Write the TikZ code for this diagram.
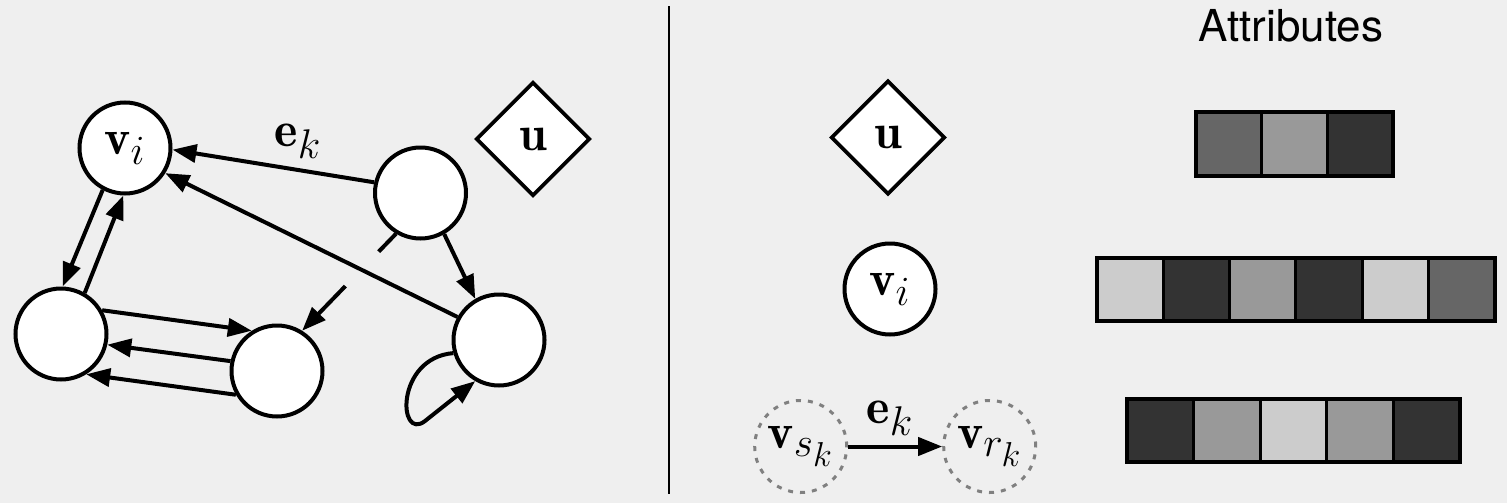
\documentclass[tikz,border=0pt]{standalone}
\usepackage{fontspec}
\newfontfamily\heros{TeX Gyre Heros}
\usetikzlibrary{arrows.meta,shapes.geometric,calc}
\definecolor{bg}{RGB}{239,239,239}
\definecolor{ga}{RGB}{51,51,51}
\definecolor{gb}{RGB}{102,102,102}
\definecolor{gc}{RGB}{153,153,153}
\definecolor{gd}{RGB}{204,204,204}
\definecolor{dashgray}{RGB}{128,128,128}
\begin{document}
\begin{tikzpicture}[x=0.5pt,y=-0.5pt,
  bigmath/.style={font=\fontsize{24.88}{30}\selectfont},
  vert/.style={circle,draw=black,fill=white,line width=2pt,minimum size=45.5pt,inner sep=0pt,bigmath},
  glob/.style={diamond,draw=black,fill=white,line width=1.8pt,minimum size=57pt,inner sep=0pt,bigmath},
  dvert/.style={circle,draw=dashgray,line width=1.5pt,dash pattern=on 2.5pt off 3.5pt,minimum size=46pt,inner sep=0pt,bigmath},
  edge/.style={line width=2pt,-{Triangle[length=12pt,width=9pt]}},
  plain/.style={line width=2pt},
  lbl/.style={inner sep=0pt,bigmath},
  cell/.style={draw=black,line width=1.5pt},
  barframe/.style={draw=black,line width=2pt},
]
\useasboundingbox[fill=bg] (0,0) rectangle (1507,503);

% ---------- left graph ----------
\node[vert] (vi) at (125,148) {$\mathbf{v}_i$};
\node[vert] (tr) at (420.5,193) {};
\node[glob] (uL) at (533,139) {$\mathbf{u}$};
\node[vert] (lc) at (61,334) {};
\node[vert] (mc) at (277,371) {};
\node[vert] (rb) at (499,340) {};

\draw[edge] (tr.167) -- (vi.-2);
\node[lbl] (ekL) at (298,141) {$\mathbf{e}_k$};
\draw[edge] (rb.151) -- (vi.328);
\draw[edge] (vi.242) -- (lc.88);
\draw[edge] (lc.60) -- (vi.268);
\draw[edge] (lc.30) -- (mc.122);
\draw[edge] (mc.168) -- (lc.-13);
\draw[edge] (mc.210) -- (lc.-58);
\draw[edge] (tr.-60) -- (rb.120);
\draw[plain] (tr.239) -- ($(tr.239)!0.185!(mc.58)$);
\draw[edge] ($(tr.239)!0.54!(mc.58)$) -- (mc.58);
\draw[edge] (rb.196) .. controls (395,358) and (398,442) .. (425,421) -- (rb.240);

% ---------- divider ----------
\coordinate (dtop) at (669,6);
\coordinate (dbot) at (669,494);
\draw[line width=1pt] (dtop) -- (dbot);

% ---------- legend ----------
\node[font=\heros\fontsize{22}{26}\selectfont, anchor=base, inner sep=0pt] (attr) at (1291,41.7) {Attributes};
\node[glob] (uR) at (888,137.5) {$\mathbf{u}$};
\node[vert] (viR) at (890,289) {$\mathbf{v}_i$};
\node[dvert] (vs) at (800.7,446.5) {$\mathbf{v}_{s_k}$};
\node[dvert] (vr) at (989.7,446.5) {$\mathbf{v}_{r_k}$};
\draw[edge] (vs.east) -- (vr.west);
\node[lbl] (ekR) at (890,418) {$\mathbf{e}_k$};

% ---------- attribute bars ----------
\foreach \c [count=\i from 0] in {gb,gc,ga}
  \draw[cell,fill=\c] ({1196+\i*65.5},112) rectangle ++(65.5,64);
\draw[barframe] (1196,112) rectangle (1392.5,176);

\foreach \c [count=\i from 0] in {gd,ga,gc,ga,gd,gb}
  \draw[cell,fill=\c] ({1097+\i*66.3},258) rectangle ++(66.3,62.5);
\draw[barframe] (1097,258) rectangle (1494.8,320.5);

\foreach \c [count=\i from 0] in {ga,gc,gd,gc,ga}
  \draw[cell,fill=\c] ({1127+\i*66.6},399) rectangle ++(66.6,63);
\draw[barframe] (1127,399) rectangle (1460,462);
\end{tikzpicture}
\end{document}
